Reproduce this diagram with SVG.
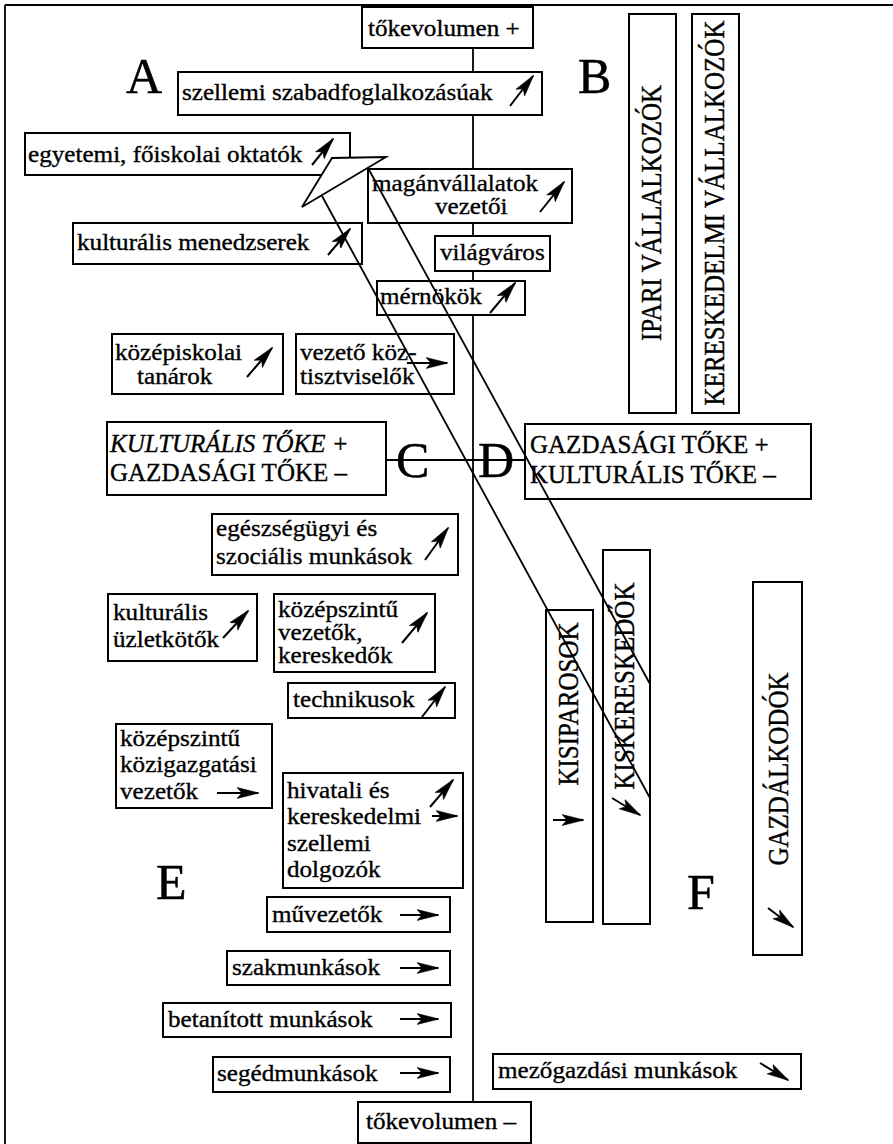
<svg xmlns="http://www.w3.org/2000/svg" width="893" height="1144" viewBox="0 0 893 1144">
<defs>
<marker id="ah" viewBox="0 0 22 12" refX="21" refY="6" markerWidth="22" markerHeight="12" markerUnits="userSpaceOnUse" orient="auto">
<path d="M0,0.5 L22,6 L0,11.5 L5,6 Z" fill="#000" stroke="#000" stroke-width="0.6"/>
</marker>
<style>
.bx{fill:#fff;stroke:#000;stroke-width:2}
.ln{stroke:#000;stroke-width:1.8;fill:none}
.ar{stroke:#000;stroke-width:2;fill:none;marker-end:url(#ah)}
text{font-family:"Liberation Serif","Times New Roman",serif;fill:#000;stroke:#000;stroke-width:0.35px}
.t{font-size:23.5px;transform-box:fill-box;transform-origin:0 50%;transform:scaleX(1.07)}
.c{font-size:25px}
.v{font-size:25px}
.big{font-size:50px;stroke-width:0.5px}
</style>
</defs>
<rect width="893" height="1144" fill="#fff"/>
<g id="frame">
<line class="ln" x1="5" y1="5" x2="893" y2="5" stroke-width="2.5"/>
<line class="ln" x1="5" y1="5" x2="5" y2="1144" stroke-width="2.5"/>
</g>
<g id="connectors">
<line class="ln" x1="473" y1="48" x2="473" y2="1102"/>
<line class="ln" x1="386" y1="460" x2="525" y2="460"/>
</g>
<g id="letters">
<text class="big" x="126" y="93">A</text>
<text class="big" x="578" y="93">B</text>
<text class="big" x="396" y="477">C</text>
<text class="big" x="478" y="477">D</text>
<text class="big" x="156" y="899">E</text>
<text class="big" x="687" y="909">F</text>
</g>
<g id="n-tokevolumen-plus"><rect class="bx" x="362" y="7" width="171" height="41"/><text class="t" x="368" y="36">tőkevolumen +</text></g>
<g id="n-szellemi"><rect class="bx" x="178" y="72" width="364" height="43"/><text class="t" x="182" y="100">szellemi szabadfoglalkozásúak</text></g>
<g id="n-egyetemi"><rect class="bx" x="25" y="133" width="325" height="42"/><text class="t" x="28" y="162">egyetemi, főiskolai oktatók</text></g>
<g id="n-maganvallalatok"><rect class="bx" x="368" y="169" width="204" height="54"/><text class="t" x="372" y="191">magánvállalatok</text><text class="t" x="435" y="214">vezetői</text></g>
<g id="n-kult-menedzserek"><rect class="bx" x="73" y="223" width="289" height="41"/><text class="t" x="77" y="250">kulturális menedzserek</text></g>
<g id="n-vilagvaros"><rect class="bx" x="435" y="236" width="115" height="35"/><text class="t" x="440" y="260">világváros</text></g>
<g id="n-mernokok"><rect class="bx" x="377" y="281" width="148" height="34"/><text class="t" x="380" y="304">mérnökök</text></g>
<g id="n-kozepiskolai"><rect class="bx" x="112" y="334" width="171" height="60"/><text class="t" x="115" y="360">középiskolai</text><text class="t" x="137" y="384">tanárok</text></g>
<g id="n-koztisztviselok"><rect class="bx" x="296" y="334" width="158" height="60"/><text class="t" x="300" y="360">vezető köz-</text><text class="t" x="300" y="384">tisztviselők</text></g>
<g id="n-C"><rect class="bx" x="107" y="422" width="279" height="73"/><text class="c" x="110" y="452" font-style="italic">KULTURÁLIS TŐKE +</text><text class="c" x="110" y="481">GAZDASÁGI TŐKE –</text></g>
<g id="n-D"><rect class="bx" x="525" y="424" width="286" height="75"/><text class="c" x="530" y="453">GAZDASÁGI TŐKE +</text><text class="c" x="530" y="483">KULTURÁLIS TŐKE –</text></g>
<g id="n-ipari"><rect class="bx" x="629" y="14" width="47" height="399"/><text class="v" text-anchor="middle" transform="translate(661,213) rotate(-90) scale(1,1.15)">IPARI VÁLLALKOZÓK</text></g>
<g id="n-kereskedelmi"><rect class="bx" x="692" y="14" width="47" height="399"/><text class="v" text-anchor="middle" transform="translate(724,213) rotate(-90) scale(1,1.15)">KERESKEDELMI VÁLLALKOZÓK</text></g>
<g id="n-egeszsegugyi"><rect class="bx" x="212" y="514" width="246" height="61"/><text class="t" x="216" y="536">egészségügyi és</text><text class="t" x="216" y="564">szociális munkások</text></g>
<g id="n-kult-uzletkotok"><rect class="bx" x="108" y="594" width="149" height="67"/><text class="t" x="113" y="620">kulturális</text><text class="t" x="113" y="647">üzletkötők</text></g>
<g id="n-kozepszintu-vezetok"><rect class="bx" x="274" y="594" width="161" height="78"/><text class="t" x="278" y="617">középszintű</text><text class="t" x="278" y="640">vezetők,</text><text class="t" x="278" y="663">kereskedők</text></g>
<g id="n-technikusok"><rect class="bx" x="288" y="683" width="167" height="35"/><text class="t" x="293" y="707">technikusok</text></g>
<g id="n-kozigazgatasi"><rect class="bx" x="116" y="724" width="156" height="84"/><text class="t" x="120" y="746">középszintű</text><text class="t" x="120" y="772">közigazgatási</text><text class="t" x="120" y="799">vezetők</text></g>
<g id="n-hivatali"><rect class="bx" x="283" y="773" width="180" height="115"/><text class="t" x="287" y="798">hivatali és</text><text class="t" x="287" y="824">kereskedelmi</text><text class="t" x="287" y="851">szellemi</text><text class="t" x="287" y="877">dolgozók</text></g>
<g id="n-muvezetok"><rect class="bx" x="267" y="897" width="183" height="35"/><text class="t" x="272" y="922">művezetők</text></g>
<g id="n-szakmunkasok"><rect class="bx" x="227" y="951" width="223" height="34"/><text class="t" x="232" y="975">szakmunkások</text></g>
<g id="n-betanitott"><rect class="bx" x="163" y="1003" width="288" height="34"/><text class="t" x="168" y="1027">betanított munkások</text></g>
<g id="n-segedmunkasok"><rect class="bx" x="213" y="1057" width="237" height="35"/><text class="t" x="217" y="1081">segédmunkások</text></g>
<g id="n-tokevolumen-minus"><rect class="bx" x="358" y="1102" width="173" height="41"/><text class="t" x="366" y="1129">tőkevolumen –</text></g>
<g id="n-kisiparosok"><rect class="bx" x="546" y="610" width="47" height="312"/><text class="v" text-anchor="middle" transform="translate(578,704) rotate(-90) scale(1,1.15)">KISIPAROSOK</text></g>
<g id="n-kiskereskedok"><rect class="bx" x="603" y="550" width="47" height="374"/><text class="v" text-anchor="middle" transform="translate(634,686) rotate(-90) scale(1,1.15)">KISKERESKEDŐK</text></g>
<g id="n-gazdalkodok"><rect class="bx" x="753" y="582" width="49" height="373"/><text class="v" text-anchor="middle" transform="translate(788,769) rotate(-90) scale(1,1.15)">GAZDÁLKODÓK</text></g>
<g id="n-mezogazdasagi"><rect class="bx" x="493" y="1054" width="308" height="35"/><text class="t" x="498" y="1078">mezőgazdási munkások</text></g>
<g id="bolt">
<polygon points="332,158 386,157 302,207" fill="#fff" stroke="#000" stroke-width="1.8"/>
<line class="ln" x1="368" y1="168" x2="650" y2="684"/>
<line class="ln" x1="322" y1="196" x2="650" y2="798"/>
</g>
<g id="arrows">
<line class="ar" x1="510" y1="106" x2="533" y2="76"/>
<line class="ar" x1="312" y1="165" x2="333" y2="139"/>
<line class="ar" x1="540" y1="212" x2="564" y2="182"/>
<line class="ar" x1="328" y1="255" x2="350" y2="229"/>
<line class="ar" x1="490" y1="313" x2="515" y2="283"/>
<line class="ar" x1="247" y1="377" x2="272" y2="348"/>
<line class="ar" x1="407" y1="363" x2="447" y2="363"/>
<line class="ar" x1="425" y1="560" x2="448" y2="528"/>
<line class="ar" x1="223" y1="638" x2="248" y2="611"/>
<line class="ar" x1="402" y1="643" x2="427" y2="613"/>
<line class="ar" x1="422" y1="717" x2="445" y2="687"/>
<line class="ar" x1="217" y1="793" x2="258" y2="793"/>
<line class="ar" x1="430" y1="807" x2="453" y2="780"/>
<line class="ar" x1="432" y1="816" x2="457" y2="816"/>
<line class="ar" x1="400" y1="915" x2="438" y2="915"/>
<line class="ar" x1="400" y1="968" x2="438" y2="968"/>
<line class="ar" x1="400" y1="1019" x2="438" y2="1019"/>
<line class="ar" x1="400" y1="1073" x2="438" y2="1073"/>
<line class="ar" x1="553" y1="820" x2="583" y2="820"/>
<line class="ar" x1="612" y1="798" x2="640" y2="815"/>
<line class="ar" x1="768" y1="908" x2="793" y2="927"/>
<line class="ar" x1="760" y1="1063" x2="788" y2="1080"/>
</g>
</svg>
